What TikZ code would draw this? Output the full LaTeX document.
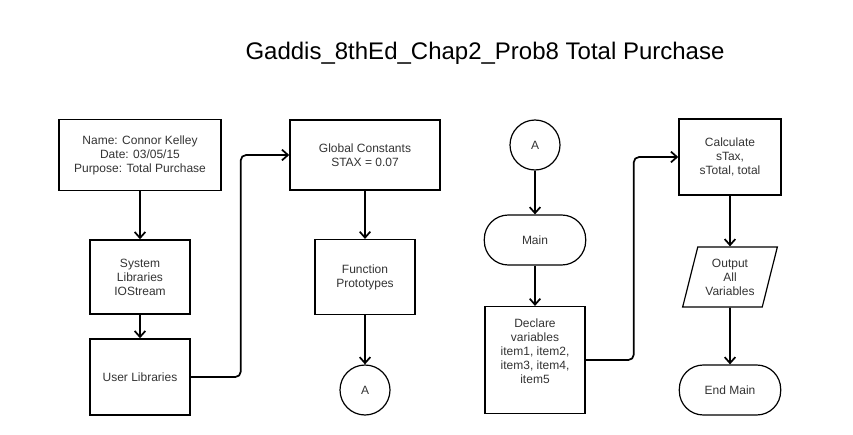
\documentclass[tikz,border=0pt]{standalone}
\usepackage{fontspec}
\setmainfont{Liberation Sans}
\usetikzlibrary{arrows.meta,shapes.geometric}
\begin{document}
\begin{tikzpicture}[x=0.75pt, y=-0.75pt,
		box/.style={draw, line width=1.1pt, align=center, text=black!80, font=\fontsize{9}{10.5}\selectfont},
		term/.style={draw, line width=0.9pt, rounded corners=18pt, align=center, text=black!80, font=\fontsize{9}{10.5}\selectfont, minimum width=76pt, minimum height=37.5pt},
		conn/.style={draw, circle, line width=0.9pt, minimum size=37.5pt, text=black!80, font=\fontsize{9}{10.5}\selectfont},
		io/.style={draw, trapezium, trapezium left angle=71.6, trapezium right angle=108.4, trapezium stretches body, line width=0.9pt, align=center, text=black!80, font=\fontsize{9}{10.5}\selectfont, minimum width=71pt, minimum height=45pt, inner xsep=0pt},
		flow/.style={line width=1.3pt, -{Straight Barb[length=4.5pt,width=8pt]}, rounded corners=4pt}]
	\useasboundingbox (0,0) rectangle (853,435);
	
	% Title
	\node (title) at (485,53) {\fontsize{18}{22}\selectfont Gaddis\_8thEd\_Chap2\_Prob8 Total Purchase};
	
	% Column 1: heading and libraries
	\node[box, minimum width=121.5pt, minimum height=53pt] (name) at (140,155) {Name: Connor Kelley\\Date: 03/05/15\\Purpose: Total Purchase};
	\node[box, minimum width=75pt, minimum height=55.5pt] (syslib) at (140,277) {System\\Libraries\\IOStream};
	\node[box, minimum width=75pt, minimum height=57pt] (userlib) at (140,377) {User Libraries};
	
	% Column 2: constants and prototypes
	\node[box, minimum width=112.5pt, minimum height=52.5pt] (global) at (365,155) {Global Constants\\STAX = 0.07};
	\node[box, minimum width=75pt, minimum height=56pt] (proto) at (365,277) {Function\\Prototypes};
	\node[conn] (connA) at (365,390) {A};
	
	% Column 3: main starts
	\node[conn] (connB) at (535,145) {A};
	\node[term] (main) at (535,240) {Main};
	\node[box, minimum width=75pt, minimum height=80pt, text depth=13pt] (declare) at (535,360) {Declare\\variables\\item1, item2,\\item3, item4,\\item5};
	
	% Column 4: calculation and output
	\node[box, minimum width=76.5pt, minimum height=57pt] (calc) at (730,157) {Calculate\\sTax,\\sTotal, total};
	\node[io] (output) at (730,277) {Output\\All\\Variables};
	\node[term] (endmain) at (730,390) {End Main};
	
	% Connectors
	\draw[flow] (name) -- (syslib);
	\draw[flow] (syslib) -- (userlib);
	\draw[flow] (userlib.east) -- ++(50,0) |- (global.west);
	\draw[flow] (global) -- (proto);
	\draw[flow] (proto) -- (connA);
	\draw[flow] (connB) -- (main);
	\draw[flow] (main) -- (declare);
	\draw[flow] (declare.east) -- ++(48,0) |- (calc.west);
	\draw[flow] (calc) -- (output);
	\draw[flow] (output) -- (endmain);
\end{tikzpicture}
\end{document}
